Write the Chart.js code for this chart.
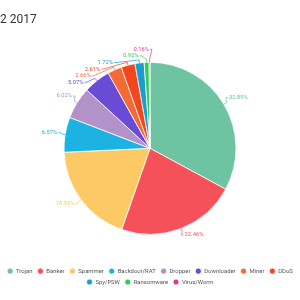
<!DOCTYPE html>
<html>
<head>
<meta charset="utf-8">
<script src="https://cdn.jsdelivr.net/npm/chart.js@4/dist/chart.umd.min.js"></script>
<style>
  html, body { margin: 0; padding: 0; background: #fff; }
  #wrap { width: 300px; height: 300px; }
</style>
</head>
<body>
<div id="wrap"><canvas id="threatChart" width="300" height="300"></canvas></div>
<script>
const titleText = '2 2017';
const categories = ['Trojan', 'Banker', 'Spammer', 'Backdoor/RAT', 'Dropper', 'Downloader',
  'Miner', 'DDoS', 'Spy/PSW', 'Ransomware', 'Virus/Worm'];
const shares = [32.89, 22.46, 18.92, 6.57, 6.02, 5.07, 2.66, 2.61, 1.72, 0.92, 0.16];
const sliceColors = ['#6dc3a2', '#f5515a', '#fdc964', '#1cb3e2', '#b391c9', '#6a4bd6',
  '#f36a36', '#f3461e', '#1b9ec8', '#2fcc58', '#e03c8c'];

// outside labels with small connector lines
const outsideLabels = {
  id: 'outsideLabels',
  afterDatasetsDraw(chart) {
    const ctx = chart.ctx;
    const arcs = chart.getDatasetMeta(0).data;
    if (!arcs.length) return;
    const cx = arcs[0].x;
    const cy = arcs[0].y;
    const r = arcs[0].outerRadius;
    const R = r + 7;
    const items = arcs.map((arc, i) => {
      const mid = (arc.startAngle + arc.endAngle) / 2;
      const s = Math.sin(mid);
      return { i, mid, right: Math.cos(mid) >= 0, y: cy + s * (s < 0 ? r + 13 : R) };
    });

    // push overlapping labels down, per side
    [true, false].forEach((side) => {
      const group = items.filter((it) => it.right === side);
      group.sort((a, b) => (a.y - b.y) || (side ? a.mid - b.mid : b.mid - a.mid));
      for (let k = 1; k < group.length; k++) {
        if (group[k].y < group[k - 1].y + 6.6) group[k].y = group[k - 1].y + 6.6;
      }
    });

    ctx.save();
    ctx.font = '5.8px Roboto';
    ctx.textBaseline = 'middle';
    ctx.lineWidth = 0.7;
    items.forEach((it) => {
      const dy = it.y - cy;
      const dx = Math.sqrt(Math.max(R * R - dy * dy, 0));
      const lx = it.right ? cx + dx : cx - dx;
      const dir = it.right ? 1 : -1;
      const x0 = cx + Math.cos(it.mid) * r;
      const y0 = cy + Math.sin(it.mid) * r;
      const x1 = cx + Math.cos(it.mid) * (r + 3);
      const y1 = cy + Math.sin(it.mid) * (r + 3);
      const color = sliceColors[it.i];
      ctx.strokeStyle = color;
      ctx.beginPath();
      ctx.moveTo(x0, y0);
      ctx.lineTo(x1, y1);
      ctx.lineTo(lx - dir * 2, it.y);
      ctx.lineTo(lx, it.y);
      ctx.stroke();
      ctx.fillStyle = color;
      ctx.textAlign = it.right ? 'left' : 'right';
      ctx.fillText(shares[it.i].toFixed(2) + '%', lx + dir, it.y);
    });
    ctx.restore();
  }
};

const ctx = document.getElementById('threatChart').getContext('2d');
new Chart(ctx, {
  type: 'pie',
  data: {
    labels: categories,
    datasets: [{
      data: shares,
      backgroundColor: sliceColors,
      borderColor: '#ffffff',
      borderWidth: 0.8
    }]
  },
  options: {
    responsive: false,
    animation: false,
    radius: 86,
    layout: { padding: { bottom: 5 } },
    plugins: {
      title: {
        display: true,
        text: titleText,
        align: 'start',
        color: '#333333',
        font: { family: 'Roboto', size: 12, weight: 'normal' },
        padding: { top: 13, bottom: 6 }
      },
      legend: {
        position: 'bottom',
        labels: {
          usePointStyle: true,
          pointStyle: 'circle',
          boxWidth: 6.3,
          boxHeight: 4.3,
          padding: 5,
          color: '#555555',
          font: { family: 'Roboto', size: 5.9 }
        }
      },
      tooltip: { enabled: false }
    }
  },
  plugins: [outsideLabels]
});
</script>
</body>
</html>
